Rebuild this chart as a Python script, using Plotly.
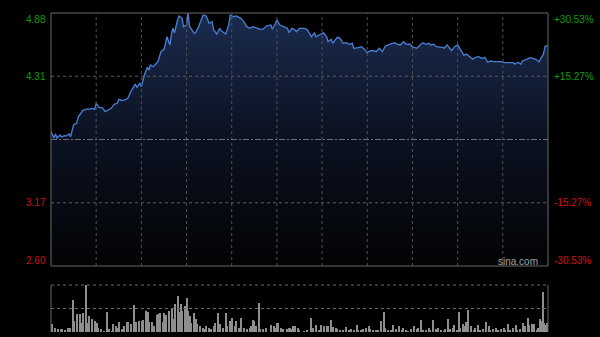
import plotly.graph_objects as go

# ---------------- data ----------------
prev_close = 3.74
price_min = [0, 2, 3, 4, 6, 7, 9, 10, 12, 13, 15, 17, 18, 20, 21, 24, 25, 27, 29, 30,
             32, 34, 36, 38, 40, 42, 44, 45, 47, 49, 51, 53, 55, 56, 57, 59, 60, 62, 64, 65,
             66, 68, 70, 71, 73, 75, 76, 77, 79, 80, 81, 82, 84, 85, 87, 88, 90, 91, 92, 93,
             95, 96, 98, 100, 101, 103, 105, 107, 108, 110, 112, 113, 116, 118, 119, 121, 123, 126, 128, 130,
             132, 134, 137, 139, 141, 143, 146, 147, 149, 150, 152, 154, 157, 158, 160, 162, 163, 165, 168, 170,
             172, 173, 175, 176, 178, 179, 181, 183, 184, 186, 187, 189, 190, 192, 194, 196, 198, 200, 201, 204,
             206, 208, 210, 212, 214, 216, 218, 220, 222, 224, 226, 228, 230, 232, 234, 236, 238, 240, 243, 245,
             247, 249, 251, 252, 254, 256, 260, 261, 263, 265, 266, 268, 270, 272, 274, 276, 278, 280, 282, 284,
             286, 288, 290, 292, 294, 296, 299, 301, 303, 305, 307, 308, 310, 312, 313, 316, 318, 320, 322, 324,
             327, 328, 330]
price_val = [3.810, 3.753, 3.790, 3.753, 3.781, 3.763, 3.774, 3.772, 3.790, 3.765, 3.871, 3.886, 3.940, 3.976, 4.000, 4.015, 4.012, 4.021, 4.012, 4.066,
             4.027, 4.027, 3.991, 4.006, 4.021, 4.057, 4.066, 4.102, 4.090, 4.096, 4.111, 4.171, 4.210, 4.240, 4.210, 4.246, 4.216, 4.321, 4.391, 4.366,
             4.411, 4.396, 4.427, 4.441, 4.531, 4.553, 4.607, 4.666, 4.592, 4.697, 4.742, 4.700, 4.817, 4.853, 4.832, 4.757, 4.772, 4.880, 4.757, 4.742,
             4.697, 4.702, 4.757, 4.841, 4.862, 4.853, 4.787, 4.802, 4.727, 4.691, 4.742, 4.720, 4.691, 4.772, 4.862, 4.847, 4.853, 4.832, 4.802, 4.757,
             4.742, 4.757, 4.742, 4.733, 4.736, 4.763, 4.772, 4.733, 4.787, 4.817, 4.772, 4.757, 4.742, 4.702, 4.742, 4.727, 4.711, 4.742, 4.742, 4.733,
             4.682, 4.666, 4.702, 4.666, 4.682, 4.691, 4.702, 4.666, 4.621, 4.643, 4.607, 4.643, 4.661, 4.652, 4.607, 4.612, 4.598, 4.607, 4.562, 4.567,
             4.576, 4.556, 4.522, 4.540, 4.540, 4.531, 4.562, 4.531, 4.583, 4.592, 4.601, 4.612, 4.598, 4.592, 4.621, 4.598, 4.601, 4.575, 4.562, 4.592,
             4.612, 4.598, 4.607, 4.592, 4.598, 4.576, 4.571, 4.562, 4.592, 4.562, 4.540, 4.576, 4.592, 4.547, 4.502, 4.508, 4.486, 4.463, 4.481, 4.486,
             4.472, 4.481, 4.436, 4.447, 4.441, 4.441, 4.441, 4.432, 4.432, 4.427, 4.432, 4.418, 4.436, 4.418, 4.447, 4.463, 4.477, 4.472, 4.463, 4.441,
             4.511, 4.576, 4.592]

vol_min = [0, 2, 4, 6, 7, 9, 11, 12, 14, 15, 17, 19, 20, 21, 23, 24, 25, 27, 29, 30,
           31, 33, 35, 37, 38, 40, 41, 43, 44, 45, 47, 48, 50, 51, 53, 55, 56, 58, 60, 61,
           63, 64, 65, 67, 68, 70, 71, 72, 74, 75, 76, 78, 80, 81, 82, 84, 85, 86, 87, 89,
           90, 91, 92, 93, 95, 96, 97, 99, 101, 102, 103, 105, 106, 108, 109, 111, 112, 114, 116, 117,
           119, 120, 122, 123, 125, 126, 128, 130, 132, 133, 134, 135, 136, 138, 139, 141, 143, 146, 148, 149,
           150, 151, 153, 154, 157, 158, 159, 160, 161, 162, 164, 165, 168, 170, 173, 174, 176, 178, 179, 181,
           183, 184, 186, 187, 189, 190, 192, 194, 196, 198, 199, 201, 203, 204, 206, 207, 209, 211, 212, 214,
           216, 217, 219, 221, 222, 224, 226, 227, 229, 231, 233, 234, 236, 237, 239, 241, 243, 244, 246, 247,
           249, 251, 252, 254, 256, 257, 259, 261, 262, 264, 265, 267, 268, 270, 271, 272, 274, 275, 276, 277,
           279, 281, 282, 284, 285, 287, 289, 291, 292, 294, 296, 297, 299, 301, 302, 304, 305, 307, 309, 310,
           312, 314, 315, 317, 318, 320, 321, 323, 324, 325, 326, 327, 328, 329, 330]
vol_val = [77, 43, 35, 30, 30, 20, 40, 40, 320, 110, 180, 180, 93, 193, 470, 93, 160, 127, 110, 93,
           43, 27, 10, 200, 33, 10, 77, 60, 43, 100, 33, 60, 100, 100, 77, 267, 100, 110, 110, 120,
           210, 200, 100, 100, 60, 167, 183, 193, 100, 193, 167, 210, 243, 127, 277, 360, 200, 277, 210, 260,
           343, 210, 160, 93, 193, 133, 77, 60, 43, 33, 60, 43, 27, 60, 93, 193, 77, 43, 193, 60,
           110, 143, 60, 110, 43, 143, 43, 27, 43, 60, 117, 110, 60, 293, 27, 27, 43, 73, 60, 43,
           90, 93, 43, 27, 27, 43, 40, 27, 63, 60, 43, 23, 7, 23, 140, 40, 73, 13, 73, 63,
           63, 57, 123, 50, 40, 30, 13, 23, 50, 23, 30, 13, 73, 23, 13, 30, 40, 57, 30, 13,
           23, 13, 107, 197, 40, 23, 13, 73, 30, 63, 13, 40, 13, 7, 30, 57, 30, 40, 117, 13,
           23, 40, 13, 117, 30, 40, 13, 7, 30, 133, 30, 40, 73, 23, 197, 40, 83, 57, 97, 217,
           57, 17, 40, 73, 13, 30, 97, 57, 13, 30, 40, 13, 30, 40, 23, 83, 13, 40, 73, 17,
           30, 90, 57, 140, 73, 80, 83, 23, 40, 130, 107, 397, 90, 73, 90]

left_labels = ["4.88", "4.31", "3.17", "2.60"]
left_values = [4.88, 4.31, 3.17, 2.60]
right_labels = ["+30.53%", "+15.27%", "-15.27%", "-30.53%"]
label_colors = ["#0f9d0f", "#0f9d0f", "#d01010", "#d01010"]
label_shift = [-6, 0, 0, 6]

# ---------------- layout geometry ----------------
W, H = 600, 337
ML, MR, MT, MB = 51, 52, 13, 5
plot_h = H - MT - MB
main_bottom = (H - MB - 266) / plot_h
vol_top = (H - MB - 285) / plot_h

fig = go.Figure()

fig.add_trace(go.Scatter(
    x=price_min, y=price_val, mode="lines",
    line=dict(color="#4a80d4", width=1.3),
    fill="tozeroy",
    fillgradient=dict(type="vertical",
                      colorscale=[[0, "#020304"], [0.55, "#0c1324"], [1, "#1b2c50"]],
                      start=2.60, stop=4.88),
    xaxis="x", yaxis="y", hoverinfo="skip", showlegend=False))

fig.add_trace(go.Bar(
    x=vol_min, y=vol_val, width=0.7,
    marker=dict(color="#8e8e8e", line=dict(width=0)),
    xaxis="x2", yaxis="y2", hoverinfo="skip", showlegend=False))

shapes = []
# vertical dotted grid in price panel (every 30 min)
for m in range(30, 330, 30):
    shapes.append(dict(type="line", xref="x", yref="paper", x0=m, x1=m,
                       y0=main_bottom, y1=1, line=dict(color="#515151", width=1, dash="dot")))
# horizontal dotted grid lines
for v in [4.31, 3.17]:
    shapes.append(dict(type="line", xref="paper", yref="y", x0=0, x1=1, y0=v, y1=v,
                       line=dict(color="#5e5e5e", width=1, dash="dot")))
# previous close line (dash-dot)
shapes.append(dict(type="line", xref="paper", yref="y", x0=0, x1=1, y0=prev_close, y1=prev_close,
                   line=dict(color="#6e6e6e", width=1, dash="6px,2px,2px,2px")))
# price panel border
shapes.append(dict(type="rect", xref="paper", yref="paper", x0=0, x1=1, y0=main_bottom, y1=1,
                   line=dict(color="#676767", width=1)))
# volume panel
shapes.append(dict(type="line", xref="paper", yref="paper", x0=0, x1=1, y0=vol_top, y1=vol_top,
                   line=dict(color="#6a6a6a", width=1, dash="dot")))
shapes.append(dict(type="line", xref="paper", yref="paper", x0=0, x1=1, y0=vol_top / 2, y1=vol_top / 2,
                   line=dict(color="#6a6a6a", width=1, dash="dot")))
for xx in [0, 1]:
    shapes.append(dict(type="line", xref="paper", yref="paper", x0=xx, x1=xx, y0=0, y1=vol_top,
                       line=dict(color="#676767", width=1)))

annotations = []
font_family = "Liberation Sans, Arial, sans-serif"
for lab, val, col, sh in zip(left_labels, left_values, label_colors, label_shift):
    annotations.append(dict(xref="paper", yref="y", x=0, y=val, xanchor="right", yanchor="middle",
                            xshift=-3, yshift=sh, text=lab, showarrow=False,
                            font=dict(family=font_family, size=10, color=col)))
for lab, val, col, sh in zip(right_labels, left_values, label_colors, label_shift):
    annotations.append(dict(xref="paper", yref="y", x=1, y=val, xanchor="left", yanchor="middle",
                            xshift=4, yshift=sh, text=lab, showarrow=False,
                            font=dict(family=font_family, size=10, color=col)))
annotations.append(dict(xref="paper", yref="y", x=(517.5 - ML) / (W - ML - MR), y=2.60,
                        xanchor="center", yanchor="middle", yshift=5, text="sina.com", showarrow=False,
                        font=dict(family=font_family, size=10, color="#a0a0a0")))

fig.update_layout(
    width=W, height=H,
    margin=dict(l=ML, r=MR, t=MT, b=MB, pad=0),
    paper_bgcolor="#000000", plot_bgcolor="#000000",
    xaxis=dict(domain=[0, 1], range=[0, 330], visible=False, anchor="y"),
    yaxis=dict(domain=[main_bottom, 1], range=[2.60, 4.88], visible=False, anchor="x"),
    xaxis2=dict(domain=[0, 1], range=[-0.5, 330.5], visible=False, anchor="y2"),
    yaxis2=dict(domain=[0, vol_top], range=[0, 470], visible=False, anchor="x2"),
    shapes=shapes, annotations=annotations,
    bargap=0, showlegend=False,
)

fig.write_html("out.html", config={"displayModeBar": False})
